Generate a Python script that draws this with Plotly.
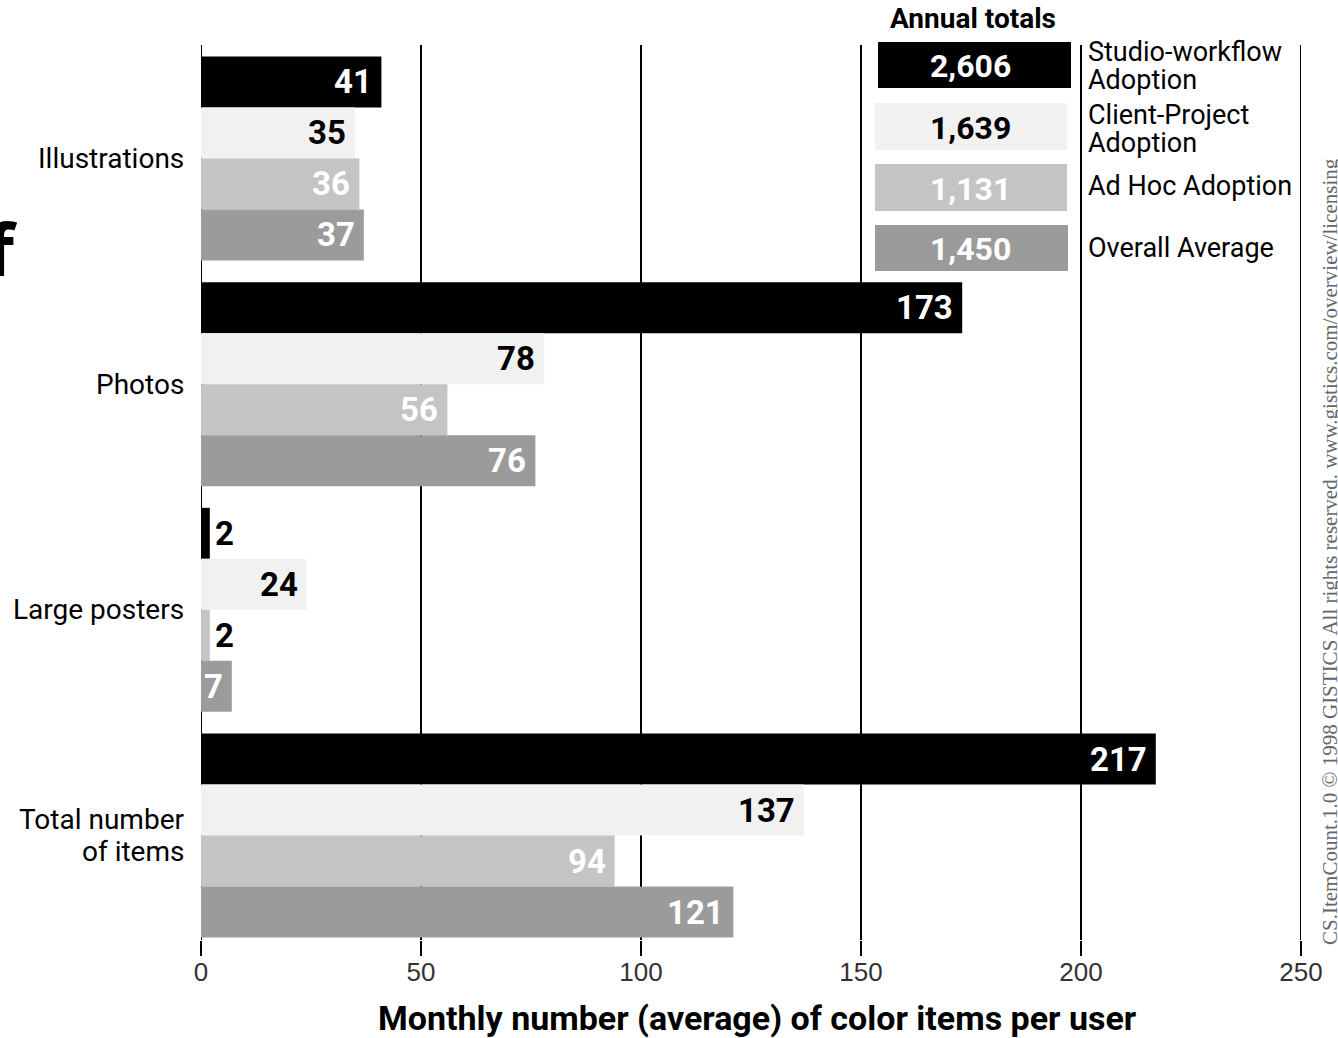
import plotly.graph_objects as go

# Categories (top to bottom) and adoption series
categories = ["Illustrations", "Photos", "Large posters", "Total number|of items"]
series_names = ["Studio-workflow|Adoption", "Client-Project|Adoption", "Ad Hoc Adoption", "Overall Average"]
studio_workflow = [41, 173, 2, 217]
client_project = [35, 78, 24, 137]
ad_hoc = [36, 56, 2, 94]
overall_average = [37, 76, 7, 121]
annual_totals = ["2,606", "1,639", "1,131", "1,450"]
x_ticks = [0, 50, 100, 150, 200, 250]

series_values = [studio_workflow, client_project, ad_hoc, overall_average]
bar_colors = ["#000000", "#f1f1f1", "#c4c4c4", "#9b9b9b"]
inside_text_colors = ["#ffffff", "#000000", "#ffffff", "#ffffff"]

NARROW = "Roboto, Liberation Sans, Arial, sans-serif"
W, H = 1338, 1038
L, R, T, B = 201, 1301, 45, 940

# bar slot geometry (units of one bar height)
group_pitch = 4.425
y_top, y_bottom = -0.725, 3 * group_pitch + 3 + 0.549


def bar_pos(g, k):
    return g * group_pitch + k


def px_x(p):
    return (p - L) / (R - L)


def px_y(p):
    return (B - p) / (B - T)


fig = go.Figure()
annotations = []

for k, (vals, color) in enumerate(zip(series_values, bar_colors)):
    ys = [bar_pos(g, k) for g in range(len(categories))]
    fig.add_trace(go.Bar(
        x=vals, y=ys, orientation="h", width=1.0,
        marker=dict(color=color, line=dict(width=0)),
        name=series_names[k].replace("|", " "), showlegend=False, hoverinfo="x",
    ))
    for v, y in zip(vals, ys):
        inside = v >= 5
        annotations.append(dict(
            x=v, y=y, xref="x", yref="y", text=f"<b>{v}</b>", showarrow=False,
            xanchor="right" if inside else "left", xshift=-7 if inside else 3,
            yanchor="middle",
            font=dict(family=NARROW, size=33,
                      color=inside_text_colors[k] if inside else "#000000"),
        ))

# category labels to the left of the axis (one annotation per line for tight leading)
for g, cat in enumerate(categories):
    lines = cat.split("|")
    centre = bar_pos(g, 1.5)
    offsets = [0.0] if len(lines) == 1 else [-32 / 2 / 51, 32 / 2 / 51]
    for ln, off in zip(lines, offsets):
        annotations.append(dict(
            x=0, y=centre + off, xref="x", yref="y", text=ln, showarrow=False,
            xanchor="right", xshift=-15, yanchor="middle", align="right",
            font=dict(family=NARROW, size=28, color="#000000"),
        ))

# vertical rules at every tick value
shapes = []
for t in x_ticks:
    shapes.append(dict(type="line", xref="x", yref="paper", x0=t, x1=t, y0=0, y1=1,
                       line=dict(color="#000000", width=2), layer="below"))

# annual totals key
key_boxes = [(878, 1071, 42, 88), (875, 1067, 103, 150), (875, 1067, 164, 211), (875, 1068, 225, 271)]
key_label_y = [(52, 80), (115, 143), (186,), (248,)]
for k, (x0, x1, y0, y1) in enumerate(key_boxes):
    shapes.append(dict(type="rect", xref="paper", yref="paper",
                       x0=px_x(x0), x1=px_x(x1), y0=px_y(y1), y1=px_y(y0),
                       fillcolor=bar_colors[k], line=dict(width=0), layer="above"))
    annotations.append(dict(
        x=px_x(970), y=px_y((y0 + y1) / 2 + 1), xref="paper", yref="paper",
        text=f"<b>{annual_totals[k]}</b>", showarrow=False, xanchor="center", yanchor="middle",
        font=dict(family=NARROW, size=32, color=inside_text_colors[k]),
    ))
    for ln, ly in zip(series_names[k].split("|"), key_label_y[k]):
        annotations.append(dict(
            x=px_x(1087), y=px_y(ly), xref="paper", yref="paper",
            text=ln, showarrow=False, xanchor="left", yanchor="middle", align="left",
            borderpad=0,
            font=dict(family=NARROW, size=27, color="#000000"),
        ))

annotations.append(dict(
    x=px_x(973), y=px_y(19), xref="paper", yref="paper", text="<b>Annual totals</b>",
    showarrow=False, xanchor="center", yanchor="middle",
    font=dict(family=NARROW, size=28, color="#000000"),
))

# axis title
annotations.append(dict(
    x=px_x(757), y=px_y(1018), xref="paper", yref="paper",
    text="<b>Monthly number (average) of color items per user</b>",
    showarrow=False, xanchor="center", yanchor="middle",
    font=dict(family=NARROW, size=34, color="#000000"),
))

# copyright line along the right edge
annotations.append(dict(
    x=px_x(1330), y=px_y(552), xref="paper", yref="paper",
    text="CS.ItemCount.1.0 © 1998 GISTICS All rights reserved. www.gistics.com/overview/licensing",
    showarrow=False, textangle=-90, xanchor="center", yanchor="middle",
    font=dict(family="Liberation Serif, Times New Roman, serif", size=21, color="#666666"),
))

# tail of the heading running in from the left
annotations.append(dict(
    x=px_x(20), y=px_y(248), xref="paper", yref="paper", text="<b>f</b>",
    showarrow=False, xanchor="right", yanchor="middle",
    font=dict(family="Open Sans, sans-serif", size=72, color="#000000"),
))

fig.update_layout(
    width=W, height=H,
    margin=dict(l=L, r=W - R, t=T, b=H - B, pad=0),
    paper_bgcolor="#ffffff", plot_bgcolor="#ffffff",
    barmode="overlay",
    shapes=shapes, annotations=annotations,
    xaxis=dict(range=[0, 250], tickvals=x_ticks, ticks="outside", ticklen=15, tickwidth=2,
               tickcolor="#000000", showgrid=False, zeroline=False, showline=False,
               ticklabelstandoff=-6,
               tickfont=dict(family="Liberation Sans, Arial, sans-serif", size=26, color="#333333")),
    yaxis=dict(range=[y_bottom, y_top], showticklabels=False, ticks="", showgrid=False,
               zeroline=False, showline=False),
)

fig.write_html("out.html")
